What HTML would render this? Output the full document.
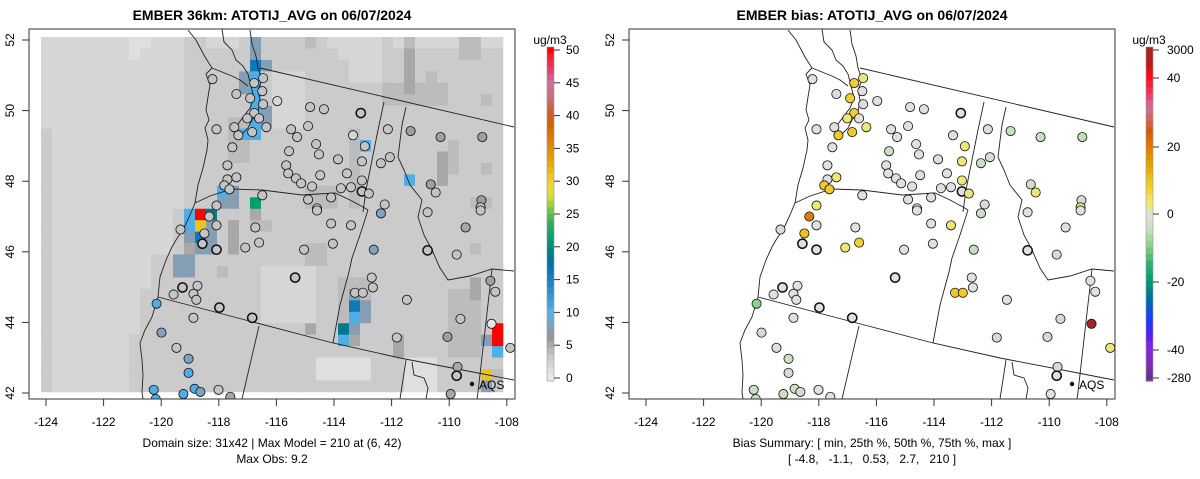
<!DOCTYPE html>
<html><head><meta charset="utf-8">
<style>
html,body{margin:0;padding:0;background:#fff;}
svg{display:block;font-family:"Liberation Sans",Arial,sans-serif;}
</style></head>
<body>
<svg id="chart" width="1200" height="479" viewBox="0 0 1200 479" xmlns="http://www.w3.org/2000/svg">
<defs>
<clipPath id="clipL"><rect x="29" y="29" width="486" height="370"/></clipPath>
<clipPath id="clipR"><rect x="629" y="29" width="486" height="370"/></clipPath>
</defs>
<text x="272" y="20" text-anchor="middle" font-size="14" font-weight="bold">EMBER 36km: ATOTIJ_AVG on 06/07/2024</text>
<text x="872" y="20" text-anchor="middle" font-size="14" font-weight="bold">EMBER bias: ATOTIJ_AVG on 06/07/2024</text>
<g id="gridL" clip-path="url(#clipL)"></g>
<g id="geoL"></g>
<g id="geoR"></g>
<g id="stL" clip-path="url(#clipL)"></g>
<g id="stR" clip-path="url(#clipR)"></g>
<g id="axes"></g>
<g id="cbars"></g>
<text x="272" y="447" text-anchor="middle" font-size="12">Domain size: 31x42 | Max Model = 210 at (6, 42)</text>
<text x="272" y="463" text-anchor="middle" font-size="12">Max Obs: 9.2</text>
<text x="872" y="447" text-anchor="middle" font-size="12">Bias Summary: [ min, 25th %, 50th %, 75th %, max ]</text>
<text x="872" y="463" text-anchor="middle" font-size="12" xml:space="preserve">[ -4.8,   -1.1,   0.53,   2.7,   210 ]</text>
</svg>
<script>
// ---- data ----
const xTicks = [-124,-122,-120,-118,-116,-114,-112,-110,-108];
const yTicks = [52,50,48,46,44,42];
const cbTicksL = [0,5,10,15,20,25,30,35,40,45,50];
const cbTicksR = [3000,40,20,0,-20,-40,-280];
const gridCodes = {'1':1,'2':2,'3':3,'4':4,'5':5,'6':6,'g':7.5,'b':10.5,'d':16,'t':19,'e':21,'y':31,'r':50};
const gridRows = [
["2222222211","222332223g","3333432222","2324222244","22"],
["2222222212","222333333g","3333333222","2335333344","33"],
["2222222222","222333333d","g333333322","2335333333","33"],
["2222222222","22233333gb","3222333322","2335343333","33"],
["2222222222","22233333gb","3222333333","3445444333","33"],
["2222222222","222333333b","3222333333","3444444333","43"],
["2222222222","222333333b","g222333333","3333333333","33"],
["2222222222","222333344b","g222333333","3333333333","33"],
["3222222222","22233334bb","3333333343","3333333333","33"],
["3222222222","2223333443","333333334b","3333333433","33"],
["3222222222","2223333443","3333333343","3333335433","33"],
["3222222222","2223333333","3333333343","3333335433","43"],
["3222222222","2223333333","3333333343","333b335333","33"],
["3222222222","222333bg33","3333444343","3333333333","33"],
["3222222222","222333gg3e","3333444343","3333333334","43"],
["3222222222","223brt3335","3333333333","3333333333","33"],
["3222222222","223byg3534","4333333333","3333333333","33"],
["3222222222","223gdg3533","3333333333","3333333333","33"],
["3222222222","2235gg3533","3333443333","3333333334","33"],
["3222222222","33gg333333","3333443333","3333333333","33"],
["3222222222","33gg334333","2222233333","3333333333","33"],
["3222222222","3333333333","2222233444","3333333335","33"],
["3222222223","3333333333","22222334g4","3333333445","33"],
["3222222223","3333333333","22222334dg","3333333444","33"],
["3222222223","3333333333","22222334bg","3333333444","33"],
["3222222223","3333333333","3333533tg3","3333333444","3r"],
["3222222233","3333333333","3333333b53","3353333444","gr"],
["3222222233","3333333333","3333333333","3353333444","3b"],
["3222222233","3333333333","3333311111","3331113333","33"],
["3222222233","3333333333","3333311111","3331113333","y4"],
["3222222233","3333333333","3333333333","3331113333","g3"]
].map(s=>s.join(''));
const stLon = [-118.22,-116.46,-116.77,-117.39,-116.49,-116.91,-116.46,-115.97,-116.77,-117.01,-116.60,-117.46,-117.32,-116.84,-116.35,-118.08,-117.53,-114.83,-114.35,-113.07,-115.49,-115.28,-114.90,-113.34,-112.13,-111.34,-110.30,-108.85,-114.62,-115.56,-114.52,-112.93,-113.86,-113.03,-112.37,-112.06,-113.55,-115.66,-115.59,-115.32,-115.14,-114.48,-114.76,-113.76,-113.41,-113.03,-113.03,-112.79,-117.70,-117.70,-117.39,-117.81,-117.63,-116.49,-114.90,-114.10,-114.59,-112.24,-110.64,-110.47,-108.88,-108.91,-118.08,-114.59,-112.37,-110.75,-108.91,-118.33,-118.08,-119.33,-118.50,-118.57,-118.08,-116.73,-117.08,-116.60,-114.10,-113.41,-114.04,-115.04,-112.62,-110.75,-109.74,-109.43,-115.35,-119.26,-118.74,-119.57,-118.88,-118.78,-117.98,-120.16,-118.88,-116.84,-113.27,-113.00,-112.69,-112.65,-111.47,-108.57,-108.40,-109.61,-108.53,-110.06,-111.82,-107.88,-119.99,-119.47,-119.05,-119.05,-109.71,-109.74,-109.95,-120.26,-119.23,-118.84,-118.64,-118.01,-117.60,-120.19];
const stLat = [50.89,50.92,50.78,50.47,50.55,50.35,50.18,50.27,49.93,49.78,49.78,49.53,49.30,49.39,49.53,49.47,48.96,50.10,50.04,49.93,49.47,49.25,49.56,49.30,49.47,49.42,49.25,49.25,49.05,48.85,48.76,48.99,48.62,48.56,48.51,48.68,48.22,48.45,48.22,48.08,47.94,48.17,47.85,47.80,47.83,48.02,47.71,47.65,48.45,48.05,48.11,47.88,47.77,47.60,47.48,47.54,47.23,47.34,47.91,47.68,47.46,47.26,47.31,47.17,47.09,47.12,47.17,47.00,46.75,46.63,46.52,46.23,46.06,46.69,46.12,46.26,46.80,46.75,46.23,46.06,46.06,46.04,45.92,46.69,45.27,44.99,45.04,44.79,44.81,44.64,44.42,44.53,44.13,44.13,44.84,44.84,45.27,44.99,44.64,45.18,44.87,44.10,43.96,43.59,43.57,43.28,43.71,43.28,42.97,42.57,42.74,42.49,41.97,42.09,41.97,42.12,42.03,42.09,41.89,41.83];
const stObs = [3.5,3.5,3.5,3.5,3.5,3.5,3.5,2,3.5,3.5,3.5,3.5,3.5,3.5,3.5,3.5,3.5,3.5,3.5,3.5,3.5,3.5,3.5,2,3.5,5.5,5.5,5.5,3.5,3.5,3.5,3.5,3.5,3.5,3.5,3.5,3.5,3.5,3.5,3.5,3.5,3.5,3.5,3.5,3.5,3.5,3.5,3.5,3.5,3.5,3.5,3.5,3.5,3.5,3.5,3.5,3.5,3.5,5.5,3.5,5.5,3.5,3.5,3.5,8,3.5,3.5,3.5,3.5,3.5,3.5,3.5,3.5,3.5,3.5,3.5,3.5,3.5,3.5,3.5,8,3.5,3.5,5,3.5,3.5,3.5,3.5,3.5,3.5,3.5,10.5,3.5,3.5,3.5,3.5,3.5,3.5,3.5,5.5,3.5,3.5,0.5,5.5,3.5,3.5,8,3.5,8,10.5,5,3.5,5,10.5,10.5,10.5,8,3.5,5,10.5];
const stBias = [0,3,8,-2,0,8,-2,0,8,3,0,0,9,9,3,0,0,0,0,0,0,0,0,0,-1,-4,-4,-5,0,-4,0,3,0,3,-4,-2,0,0,0,0,0,0,0,0,0,3,0,3,0,0,3,9,9,0,0,0,0,-3,-3,3,-3,3,3,0,-4,0,0,20,0,-2,10,0,0,0,3,8,0,3,0,0,-4,0,-3,0,0,0,0,0,0,0,0,-9,0,0,9,9,0,0,0,0,0,-3,3000,-3,-3,3,-3,0,-4,-3,-3,0,0,-4,-4,-4,-3,0,0,-4];
const stBold = [19,46,71,72,81,84,85,90,93,111];

// ---- scales ----
function lonToX(lon){ return 46 + (lon + 124) * 28.8; }
function latToY(lat){ return 40 + (52 - lat) * 35.3; }
function cellX(c){ return 41 + c * 11; }
function cellY(r){ return 37 + r * 11.45; }
const NS='http://www.w3.org/2000/svg';
function mk(tag, attrs, parent){ const e=document.createElementNS(NS,tag); for(const k in attrs) e.setAttribute(k,attrs[k]); parent.appendChild(e); return e; }
function hex2rgb(h){return [parseInt(h.substr(1,2),16),parseInt(h.substr(3,2),16),parseInt(h.substr(5,2),16)];}
function interp(stops, v){
  if(v<=stops[0][0]) return stops[0][1];
  for(let i=1;i<stops.length;i++){ if(v<=stops[i][0]){ const a=stops[i-1],b=stops[i]; const t=(v-a[0])/(b[0]-a[0]); const c1=hex2rgb(a[1]),c2=hex2rgb(b[1]); return 'rgb('+c1.map((x,j)=>Math.round(x+(c2[j]-x)*t)).join(',')+')'; } }
  return stops[stops.length-1][1];
}
const leftStops=[[0,'#e8e8e8'],[2,'#d6d6d6'],[3,'#cbcbcb'],[4,'#bcbcbc'],[5,'#a8a8a8'],[6,'#959595'],[7,'#8c99a6'],[8,'#7fa2c0'],[10,'#56b4e9'],[12,'#3a9ad8'],[15,'#1a80c0'],[17,'#0072b2'],[19,'#007a8a'],[21,'#009e73'],[24,'#3cb060'],[26,'#90c840'],[28,'#e0e040'],[30,'#f0d030'],[33,'#e8a800'],[36,'#e08000'],[39,'#d56000'],[41,'#d06040'],[43,'#c87080'],[45,'#d070a0'],[47,'#e04070'],[49,'#f02030'],[50,'#ff0000']];
const biasStops=[[0,'#9a2a2a'],[0.05,'#c01818'],[0.09,'#ff1010'],[0.13,'#f03050'],[0.18,'#d070a0'],[0.21,'#d06860'],[0.25,'#d05a10'],[0.30,'#e07a00'],[0.36,'#e8a800'],[0.42,'#f0d030'],[0.46,'#f0e860'],[0.49,'#e8e4b0'],[0.5,'#e0e0e0'],[0.52,'#dcdcdc'],[0.55,'#c0e0b8'],[0.60,'#80d080'],[0.65,'#30b070'],[0.70,'#009a7a'],[0.73,'#00808a'],[0.77,'#0064b8'],[0.81,'#1840ff'],[0.86,'#5020f0'],[0.90,'#9020e8'],[0.95,'#7a30b0'],[1,'#6a2a90']];
const CB_TOP=47, CB_BOT=381;
function leftCbY(v){ return 378 - v * (328/50); }
const biasPos=[[-280,378],[-40,350],[-20,282],[0,214],[20,147],[40,78],[3000,50]];
function biasCbY(v){
  if(v<=biasPos[0][0]) return biasPos[0][1];
  for(let i=1;i<biasPos.length;i++){ if(v<=biasPos[i][0]){ const a=biasPos[i-1],b=biasPos[i]; return a[1]+(b[1]-a[1])*(v-a[0])/(b[0]-a[0]); } }
  return 50;
}
function biasColor(v){ return interp(biasStops,(biasCbY(v)-CB_TOP)/(CB_BOT-CB_TOP)); }

// ---- grid ----
const gL=document.getElementById('gridL');
gridRows.forEach((row,r)=>{
  for(let c=0;c<42;c++){
    const v=gridCodes[row[c]]!==undefined?gridCodes[row[c]]:3;
    const rc=mk('rect',{x:cellX(c),y:cellY(r),width:11.3,height:11.75,fill:interp(leftStops,v)},gL);
    
    
  }
});

// ---- geography (approximate outlines) ----
const geoPaths=[
"M188,30 L196,40 L205,57 L212,68 L206,74 L210,85 L208,97 L206,110 L209,120 L205,128 L208,140 L207,150 L203,168 L198,185 L195,203 L190,215 L184,228 L176,240 L172,247 L166,260 L160,277 L158,297 L152,317 L145,330 L140,343 L142,360 L143,375 L142,392 L143,399",
"M222,29 L224,42 L232,50 L236,60 L243,66 L248,74 L251,86 L254,98 L250,108 L244,116 L238,124 L236,130 L242,134 L248,128 L252,120 L258,112 L260,100 L258,90 L262,80 L258,68 L256,56 L252,44 L250,30",
"M212,68 L222,72 L232,76 L240,80 L248,86",
"M260,68 L514,127",
"M195,203 L210,196 L232,189 L262,190 L302,195 L335,193 L350,200 L363,207 L368,210",
"M384,102 L378,130 L372,160 L366,190 L363,212",
"M368,210 L360,235 L352,258 L349,272 L340,305 L333,343",
"M406,107 L402,125 L398,157 L404,170 L410,185 L422,200 L418,217 L424,235 L432,250 L440,268 L448,280 L470,276 L492,269 L514,271",
"M158,297 L253,322 L333,343 L400,358 L478,373 L514,380",
"M259,326 L242,399",
"M406,360 L400,399",
"M492,269 L478,392 L477,399",
"M412,362 L414,375 L424,378 L428,388 L426,399"
];
function drawGeo(id,off){
  const g=document.getElementById(id);
  geoPaths.forEach(d=>{
    const p=mk('path',{d:d,fill:'none',stroke:'#222','stroke-width':0.9,transform:'translate('+off+',0)'},g);
    
    
  });
}
drawGeo('geoL',0); drawGeo('geoR',600);

// ---- stations ----
const sL=document.getElementById('stL'), sR=document.getElementById('stR');
for(let i=0;i<stLon.length;i++){
  const x=lonToX(stLon[i]), y=latToY(stLat[i]);
  const bold=stBold.indexOf(i)>=0;
  const a=mk('circle',{cx:x,cy:y,r:4.6,fill:interp(leftStops,stObs[i]),stroke:'#111','stroke-width':bold?1.5:0.8},sL);
  
  
  const b=mk('circle',{cx:x+600,cy:y,r:4.6,fill:biasColor(stBias[i]),stroke:'#111','stroke-width':bold?1.5:0.8},sR);
  
  
}
[0,600].forEach(off=>{
  const g=document.getElementById(off?'stR':'stL');
  const d=mk('circle',{cx:472+off,cy:384,r:2.2,fill:'#000'},g);
  
  
  const t=mk('text',{x:479+off,y:389,'font-size':12,fill:'#000'},g);
  t.textContent='AQS';
  
  
});

// ---- axes ----
const ax=document.getElementById('axes');
[0,600].forEach(off=>{
  const box=mk('rect',{x:29+off,y:29,width:486,height:370,fill:'none',stroke:'#333','stroke-width':1},ax);
  
  
  xTicks.forEach(v=>{
    const x=lonToX(v)+off;
    const tk=mk('line',{x1:x,x2:x,y1:399,y2:406,stroke:'#333'},ax);
    
    
    const t=mk('text',{x:x,y:426,'text-anchor':'middle','font-size':12},ax);
    t.textContent=String(v);
    
    
  });
  yTicks.forEach(v=>{
    const y=latToY(v);
    const tk=mk('line',{x1:22+off,x2:29+off,y1:y,y2:y,stroke:'#333'},ax);
    
    
    const t=mk('text',{x:0,y:0,'text-anchor':'middle','font-size':12,transform:'translate('+(14+off)+','+y+') rotate(-90)'},ax);
    t.textContent=String(v);
    
    
  });
});

// ---- colorbars ----
const cb=document.getElementById('cbars');
const NB=50;
for(let i=0;i<NB;i++){
  const y0=CB_TOP+(CB_BOT-CB_TOP)*i/NB, h=(CB_BOT-CB_TOP)/NB+0.6;
  const v=50-(i+0.5)*51/NB+0.5;
  const r1=mk('rect',{x:547,y:y0,width:7,height:h,fill:interp(leftStops,v)},cb);
  
  
  const t=(i+0.5)/NB;
  const r2=mk('rect',{x:1146,y:y0,width:7,height:h,fill:interp(biasStops,t)},cb);
  
  
}
[[547,'left'],[1146,'right']].forEach(([x,n])=>{
  const fr=mk('rect',{x:x,y:CB_TOP,width:7,height:CB_BOT-CB_TOP,fill:'none',stroke:'#999','stroke-width':0.6},cb);
  
  
  const u=mk('text',{x:x+3,y:44,'text-anchor':'middle','font-size':12},cb);
  u.textContent='ug/m3';
  
  
});
cbTicksL.forEach(v=>{
  const y=leftCbY(v);
  const l=mk('line',{x1:554,x2:560,y1:y,y2:y,stroke:'#333'},cb);
  
  
  const t=mk('text',{x:566,y:y+4,'font-size':12},cb);
  t.textContent=String(v);
  
  
});
cbTicksR.forEach(v=>{
  const y=biasCbY(v);
  const l=mk('line',{x1:1153,x2:1159,y1:y,y2:y,stroke:'#333'},cb);
  
  
  const t=mk('text',{x:1167,y:y+4,'font-size':12},cb);
  t.textContent=String(v);
  
  
});
</script>
</body></html>
